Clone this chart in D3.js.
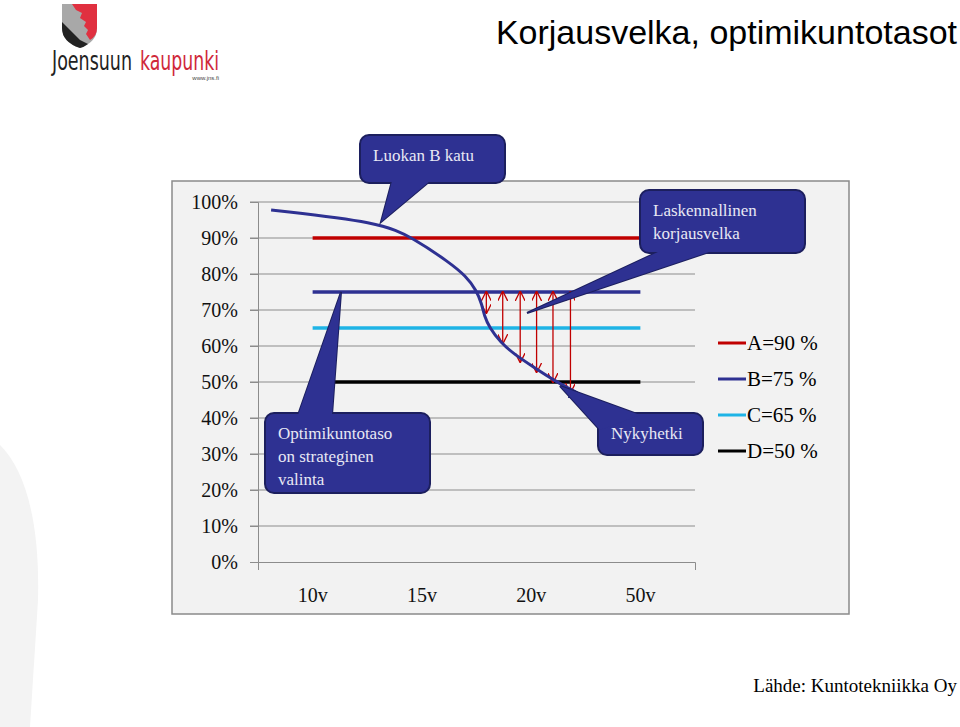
<!DOCTYPE html>
<html><head><meta charset="utf-8">
<script src="https://cdn.jsdelivr.net/npm/d3@7"></script>
<style>body{margin:0;background:#fff}svg{display:block}</style>
</head><body>
<svg id="c" width="960" height="727"></svg>
<script>
const categories = ["10v","15v","20v","50v"];
const yTicks = [0,10,20,30,40,50,60,70,80,90,100];
const levelNames = ["A=90 %","B=75 %","C=65 %","D=50 %"];
const levelValues = [90,75,65,50];
const levelColors = ["#c00000","#2e3192","#1fb4e6","#000000"];
const levelStart = [0,0,0,0.2];
// curve: x in category-index units, y in percent
const curveX = [0.12,0.12,1.12,1.42,1.757,1.90,2.0,2.05,2.07,2.12,2.22,2.35,2.52,2.70,2.92,2.92];
const curveY = [97.8,97.8,94.4,90.0,83.1,79.5,75.5,71.5,68.5,65.0,61.0,57.6,54.2,50.6,47.0,47.0];
const arrowX = [2.09,2.24,2.40,2.55,2.70,2.86];
const arrowBottom = [69.2,60.8,55.6,52.8,50.0,47.2];

const svg = d3.select("#c");
const SERIF = "'Liberation Serif','DejaVu Serif',serif";
const L=258,R=695,T=202,B=562;
const x = d3.scaleBand().domain(categories).range([L,R]);
const xc = d3.scaleLinear().domain([0,4]).range([L,R]);
const y = d3.scaleLinear().domain([0,100]).range([B,T]);

svg.append("path").attr("d","M0,445 C25,470 40,520 38,600 L30,727 L0,727Z").attr("fill","#f3f3f3");

// logo
const lg = svg.append("g");
lg.append("path").attr("d","M62,4 L97,4 L97,28 Q97,42 80,48 Q62,42 62,28Z").attr("fill","#a8a8a8");
lg.append("path").attr("d","M72,4 L97,4 L97,28 Q97,36 90,40 L86,34 L88,30 L84,26 L86,22 L80,18 L82,13 L76,10Z").attr("fill","#e03040");
lg.append("path").attr("d","M62,22 L80,40 L88,44 Q84,47 80,48 Q62,42 62,28Z").attr("fill","#222");
const LF="'Liberation Sans Narrow','DejaVu Sans Condensed',sans-serif";
lg.append("text").attr("transform","translate(52,70) scale(1,1.25)").attr("textLength",80).attr("lengthAdjust","spacingAndGlyphs").style("font-family",LF).attr("font-size",21).attr("fill","#222").text("Joensuun");
lg.append("text").attr("transform","translate(140,70) scale(1,1.25)").attr("textLength",79).attr("lengthAdjust","spacingAndGlyphs").style("font-family",LF).attr("font-size",21).attr("fill","#d0283a").text("kaupunki");
lg.append("text").attr("x",219).attr("y",80).attr("text-anchor","end").style("font-family","sans-serif").attr("font-size",6).attr("fill","#444").text("www.jns.fi");

svg.append("text").attr("x",957).attr("y",44).attr("text-anchor","end").style("font-family","'Liberation Sans',Arial,sans-serif").attr("font-size",34).attr("fill","#000").text("Korjausvelka, optimikuntotasot");

svg.append("rect").attr("x",172).attr("y",181).attr("width",677).attr("height",433).attr("fill","#f2f2f2").attr("stroke","#8a8a8a").attr("stroke-width",1.5);

svg.append("g").selectAll("line").data(yTicks.filter(d=>d>0)).join("line")
 .attr("x1",L-8).attr("x2",R).attr("y1",d=>y(d)).attr("y2",d=>y(d)).attr("stroke","#8c8c8c").attr("stroke-width",1);
const ya = svg.append("g").attr("transform",`translate(${L},0)`).call(d3.axisLeft(y).tickValues(yTicks).tickFormat(d=>d+"%").tickSize(8).tickPadding(12));
const xa = svg.append("g").attr("transform",`translate(0,${B})`).call(d3.axisBottom(x).tickSize(8).tickSizeOuter(8).tickPadding(18));
[ya,xa].forEach(a=>{a.attr("font-family",null);a.selectAll("path,line").attr("stroke","#8c8c8c");a.selectAll("text").style("font-family",SERIF).attr("font-size",20).attr("fill","#111");});
xa.selectAll(".tick line").remove();

svg.append("g").selectAll("line").data(levelValues).join("line")
 .attr("x1",(d,i)=>xc(0.5+levelStart[i])).attr("x2",xc(3.5))
 .attr("y1",d=>y(d)).attr("y2",d=>y(d)).attr("stroke",(d,i)=>levelColors[i]).attr("stroke-width",3.5);

const defs = svg.append("defs");
defs.append("marker").attr("id","ah").attr("viewBox","0 0 10 10").attr("refX",9).attr("refY",5).attr("markerWidth",10).attr("markerHeight",10).attr("markerUnits","userSpaceOnUse").attr("orient","auto-start-reverse")
 .append("path").attr("d","M0,0 L10,5 L0,10").attr("fill","none").attr("stroke","#c00000").attr("stroke-width",1.3);
svg.append("g").selectAll("line").data(arrowX).join("line")
 .attr("x1",d=>xc(d)).attr("x2",d=>xc(d)).attr("y1",y(75)).attr("y2",(d,i)=>y(arrowBottom[i]))
 .attr("stroke","#c00000").attr("stroke-width",1.3).attr("marker-start","url(#ah)").attr("marker-end","url(#ah)");

defs.append("marker").attr("id","bh").attr("viewBox","0 0 10 10").attr("refX",9).attr("refY",5).attr("markerWidth",10).attr("markerHeight",10).attr("markerUnits","userSpaceOnUse").attr("orient","auto")
 .append("path").attr("d","M0,0 L10,5 L0,10").attr("fill","none").attr("stroke","#2e3192").attr("stroke-width",2);
svg.append("path").datum(curveX.map((d,i)=>[d,curveY[i]]))
 .attr("d",d3.line().x(d=>xc(d[0])).y(d=>y(d[1])).curve(d3.curveBasis))
 .attr("fill","none").attr("stroke","#2e3192").attr("stroke-width",3).attr("marker-end","url(#bh)");

const lgd = svg.append("g").selectAll("g").data(levelNames).join("g").attr("transform",(d,i)=>`translate(718,${343+i*36})`);
lgd.append("line").attr("x1",0).attr("x2",28).attr("stroke",(d,i)=>levelColors[i]).attr("stroke-width",3);
lgd.append("text").attr("x",29).attr("y",7).style("font-family",SERIF).attr("font-size",21).text(d=>d);

function callout(bx,by,bw,bh,tip,base,lines){
 const g=svg.append("g");
 g.append("path").attr("d",`M${base[0]},${base[1]} L${tip[0]},${tip[1]} L${base[2]},${base[3]}Z`).attr("fill","#2e3192").attr("stroke","#1c1f5e").attr("stroke-width",2);
 g.append("rect").attr("x",bx).attr("y",by).attr("width",bw).attr("height",bh).attr("rx",9).attr("fill","#2e3192").attr("stroke","#1c1f5e").attr("stroke-width",2);
 g.append("path").attr("d",`M${base[0]},${base[1]} L${tip[0]},${tip[1]} L${base[2]},${base[3]}`).attr("fill","#2e3192").attr("stroke","none");
 lines.forEach((t,i)=>g.append("text").attr("x",bx+13).attr("y",by+26+i*23).style("font-family",SERIF).attr("font-size",17).attr("fill","#e8e8f4").text(t));
}
callout(360,135,145,48,[381,222],[392,181,430,181],["Luokan B katu"]);
callout(640,190,165,63,[527,313],[660,251,712,251],["Laskennallinen","korjausvelka"]);
callout(265,413,165,80,[341,292],[298,415,332,415],["Optimikuntotaso","on strateginen","valinta"]);
callout(598,413,105,42,[560,386],[600,430,640,415],["Nykyhetki"]);

svg.append("text").attr("x",957).attr("y",692).attr("text-anchor","end").style("font-family",SERIF).attr("font-size",19).text("Lähde: Kuntotekniikka Oy");
</script>
</body></html>
